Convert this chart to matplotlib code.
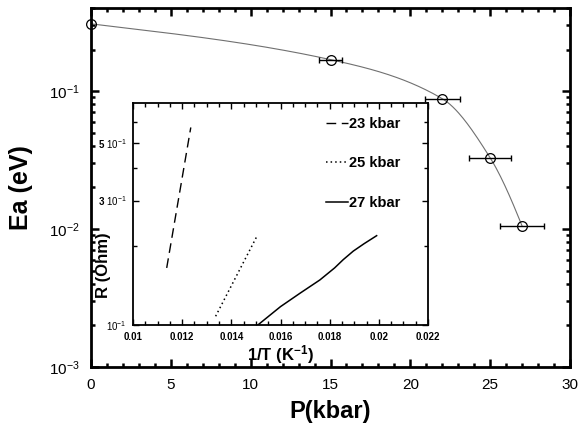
import numpy as np
import matplotlib
matplotlib.use("Agg")
import matplotlib.pyplot as plt
from matplotlib.ticker import FixedLocator, NullFormatter, FixedFormatter

plt.rcParams['font.family'] = ['Liberation Sans', 'DejaVu Sans']
plt.rcParams['mathtext.fontset'] = 'custom'
plt.rcParams['mathtext.rm'] = 'Liberation Sans'
plt.rcParams['mathtext.it'] = 'Liberation Sans:italic'
plt.rcParams['mathtext.bf'] = 'Liberation Sans:bold'

# ---- main data ----
pressure = [0, 15, 22, 25, 27]
ea = [0.307, 0.169, 0.088, 0.0328, 0.0105]
pressure_err = [0, 0.75, 1.1, 1.3, 1.4]

x_ticks = [0, 5, 10, 15, 20, 25, 30]
y_ticks = [1e-3, 1e-2, 1e-1]
y_ticklabels = ['$10^{-3}$', '$10^{-2}$', '$10^{-1}$']

# ---- inset data ----
inv_t_23 = [0.01137, 0.01235]
r_23 = [0.1655, 0.572]
inv_t_25 = [0.01336, 0.01503]
r_25 = [0.108, 0.218]
inv_t_27 = [0.01505, 0.0160, 0.0168, 0.0176, 0.0182, 0.01855, 0.01896, 0.0194, 0.01991]
r_27 = [0.0995, 0.1176, 0.1325, 0.1488, 0.1655, 0.178, 0.192, 0.205, 0.22]
labels = ['23 kbar', '25 kbar', '27 kbar']

inset_xticks = [0.01, 0.012, 0.014, 0.016, 0.018, 0.02, 0.022]
inset_xticklabels = ['0.01', '0.012', '0.014', '0.016', '0.018', '0.02', '0.022']
inset_yticks = [0.1, 0.3, 0.5]
inset_yticklabels = ['$10^{-1}$', '3 $10^{-1}$', '5 $10^{-1}$']


def pchip(x, y, xs):
    x = np.asarray(x, float); y = np.asarray(y, float)
    n = len(x)
    h = np.diff(x)
    delta = np.diff(y) / h
    d = np.zeros(n)
    for k in range(1, n - 1):
        if delta[k - 1] * delta[k] > 0:
            w1 = 2 * h[k] + h[k - 1]
            w2 = h[k] + 2 * h[k - 1]
            d[k] = (w1 + w2) / (w1 / delta[k - 1] + w2 / delta[k])
    d[0] = 0.8 * delta[0]
    d[-1] = ((2 * h[-1] + h[-2]) * delta[-1] - h[-1] * delta[-2]) / (h[-1] + h[-2])
    if np.sign(d[-1]) != np.sign(delta[-1]):
        d[-1] = 0
    out = np.empty_like(xs)
    for j, xv in enumerate(xs):
        i = min(max(np.searchsorted(x, xv) - 1, 0), n - 2)
        t = (xv - x[i]) / h[i]
        h00 = 2 * t**3 - 3 * t**2 + 1
        h10 = t**3 - 2 * t**2 + t
        h01 = -2 * t**3 + 3 * t**2
        h11 = t**3 - t**2
        out[j] = h00 * y[i] + h10 * h[i] * d[i] + h01 * y[i + 1] + h11 * h[i] * d[i + 1]
    return out


fig = plt.figure(figsize=(5.86, 4.34), dpi=100)
ax = fig.add_axes([0.1553, 0.1544, 0.8174, 0.8272])

xs = np.linspace(pressure[0], pressure[-1], 300)
ys = 10 ** pchip(pressure, np.log10(ea), xs)
ax.plot(xs, ys, color='#707070', lw=0.8, zorder=2)
ax.errorbar(pressure, ea, xerr=pressure_err, fmt='none', ecolor='black',
            elinewidth=1.0, capsize=2.5, capthick=1.0, zorder=3)
ax.plot(pressure, ea, 'o', ms=7, mfc='none', mec='black', mew=0.9,
        clip_on=False, zorder=4)

ax.set_yscale('log')
ax.set_xlim(0, 30)
ax.set_ylim(1e-3, 0.4)
ax.set_xticks(x_ticks)
ax.set_xticklabels([str(t) for t in x_ticks], fontsize=11)
ax.xaxis.set_minor_locator(FixedLocator(np.arange(0, 31, 1)))
ax.set_yticks(y_ticks)
ax.set_yticklabels(y_ticklabels, fontsize=11)
ax.yaxis.set_minor_locator(FixedLocator(
    [m * 10.0 ** e for e in (-3, -2, -1) for m in range(2, 10)]))
ax.yaxis.set_minor_formatter(NullFormatter())
ax.tick_params(which='both', direction='in', top=True, right=True, width=1.8)
ax.tick_params(which='major', length=6, pad=8)
ax.tick_params(which='minor', length=3)
for s in ax.spines.values():
    s.set_linewidth(2)
ax.set_xlabel('P(kbar)', fontsize=17, fontweight='bold', labelpad=6)
ax.set_ylabel('Ea (eV)', fontsize=18, fontweight='bold', labelpad=12)

# ---- inset ----
ins = fig.add_axes([0.227, 0.2512, 0.5034, 0.5115])
ins.plot(inv_t_23, r_23, color='black', lw=1.0, ls=(0, (7, 4)), label=labels[0])
ins.plot(inv_t_25, r_25, color='black', lw=1.1, ls=(0, (1, 2)), label=labels[1])
ins.plot(inv_t_27, r_27, color='black', lw=1.1, label=labels[2])
ins.set_yscale('log')
ins.set_xlim(0.01, 0.022)
ins.set_ylim(0.1, 0.71)
ins.xaxis.set_major_locator(FixedLocator(inset_xticks))
ins.xaxis.set_major_formatter(FixedFormatter(inset_xticklabels))
ins.xaxis.set_minor_locator(FixedLocator(np.arange(0.0100, 0.02201, 0.0005)))
ins.yaxis.set_major_locator(FixedLocator(inset_yticks))
ins.yaxis.set_major_formatter(FixedFormatter(inset_yticklabels))
ins.yaxis.set_minor_locator(FixedLocator([0.2, 0.4, 0.6]))
ins.yaxis.set_minor_formatter(NullFormatter())
ins.tick_params(which='both', direction='in', top=True, right=True, width=1.0,
                labelsize=7)
ins.tick_params(which='major', length=4, pad=5)
ins.tick_params(which='minor', length=3)
for lab in ins.get_xticklabels() + ins.get_yticklabels():
    lab.set_fontweight('bold')
for s in ins.spines.values():
    s.set_linewidth(1.3)
ins.set_xlabel('1/T (K$^{\\mathbf{-1}}$)', fontsize=12, fontweight='bold', labelpad=1)
ins.set_ylabel('R (Ohm)', fontsize=12, fontweight='bold')
ins.yaxis.set_label_coords(-0.075, 0.27)
leg = ins.legend(loc='upper left', bbox_to_anchor=(0.63, 0.97), frameon=False,
                 prop={'size': 10.5, 'weight': 'bold'}, handlelength=1.5,
                 handletextpad=0.1, labelspacing=1.75, borderpad=0)

fig.savefig('out.png', dpi=100)
